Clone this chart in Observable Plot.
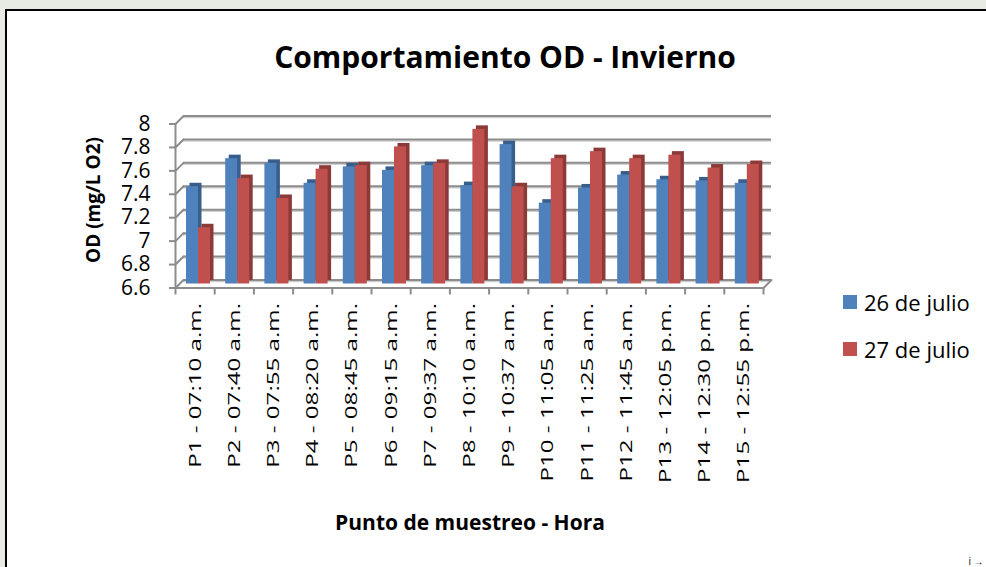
<!DOCTYPE html>
<html>
<head>
<meta charset="utf-8">
<script src="https://cdn.jsdelivr.net/npm/d3@7"></script>
<script src="https://cdn.jsdelivr.net/npm/@observablehq/plot@0.6"></script>
<style>
  html, body { margin: 0; padding: 0; overflow: hidden; }
  body { width: 986px; height: 567px; position: relative; background: #e8ebe4; font-family: "Open Sans", sans-serif; color: #000; }
  #box { position: absolute; left: 5px; top: 9px; width: 979px; height: 556px; border-left: 2px solid #000; border-top: 2px solid #000; background: #fff; }
  #chart { position: absolute; left: 0; top: 0; }
  #title { position: absolute; left: 205px; width: 600px; top: 42px; text-align: center; font-weight: 700; font-size: 30px; line-height: 1; white-space: nowrap; }
  #xtitle { position: absolute; left: 270px; width: 400px; top: 512px; text-align: center; font-weight: 700; font-size: 21px; line-height: 1; white-space: nowrap; }
  #ytitle { position: absolute; left: -7px; width: 200px; top: 189px; text-align: center; font-weight: 700; font-size: 19px; line-height: 22px; transform: rotate(-90deg); transform-origin: 100px 11px; white-space: nowrap; }
  #legend { position: absolute; left: 843px; top: 289px; font-size: 22px; line-height: 1; }
  .item { display: flex; align-items: center; height: 26px; margin-bottom: 21px; white-space: nowrap; }
  .sw { width: 14px; height: 14px; margin-right: 7px; display: inline-block; }
</style>
</head>
<body>
<div id="box"></div>
<div id="chart"></div>
<div id="title"></div>
<div id="ytitle"></div>
<div id="xtitle"></div>
<div id="legend"></div>
<script>
// ---- data ----
const categories = [
  "P1 - 07:10 a.m.", "P2 - 07:40 a.m.", "P3 - 07:55 a.m.", "P4 - 08:20 a.m.", "P5 - 08:45 a.m.",
  "P6 - 09:15 a.m.", "P7 - 09:37 a.m.", "P8 - 10:10 a.m.", "P9 - 10:37 a.m.", "P10 - 11:05 a.m.",
  "P11 - 11:25 a.m.", "P12 - 11:45 a.m.", "P13 - 12:05 p.m.", "P14 - 12:30 p.m.", "P15 - 12:55 p.m."
];
const julio26 = [7.43, 7.67, 7.63, 7.46, 7.60, 7.57, 7.61, 7.44, 7.79, 7.29, 7.42, 7.53, 7.49, 7.48, 7.46];
const julio27 = [7.08, 7.50, 7.33, 7.58, 7.61, 7.77, 7.63, 7.92, 7.43, 7.67, 7.73, 7.67, 7.70, 7.59, 7.62];
const seriesNames = ["26 de julio", "27 de julio"];
const yTicks = [6.6, 6.8, 7, 7.2, 7.4, 7.6, 7.8, 8];
const titleText = "Comportamiento OD - Invierno";
const xTitleText = "Punto de muestreo - Hora";
const yTitleText = "OD (mg/L O2)";

// ---- styles ----
const frontColors = ["#4f81bd", "#c0504d"];
const sideColors = ["#385e8c", "#8c3a38"];
const gridColor = "#8c8c8c";
const depth = 4;      // half of the 3D depth offset, px
const side = 3.5;     // bar side/top face, px

const n = categories.length;
const yMin = yTicks[0];
const yMax = yTicks[yTicks.length - 1];
const rows = categories.map((c, i) => ({i, c, a: julio26[i], b: julio27[i]}));
const bounds = d3.range(n + 1);

const lineShape = {draw(context, l) { context.moveTo(0, 0); context.lineTo(0, -l); }};

function barPair(key, k, insetLeft, insetRight) {
  return [
    Plot.rect(rows, {x1: "i", x2: d => d.i + 1, y1: yMin, y2: key, insetLeft, insetRight, dx: side, dy: -side, fill: sideColors[k]}),
    Plot.rect(rows, {x1: "i", x2: d => d.i + 1, y1: yMin, y2: key, insetLeft, insetRight, fill: frontColors[k]})
  ];
}

const chart = Plot.plot({
  width: 986,
  height: 567,
  marginLeft: 179,
  marginRight: 219,
  marginTop: 119.5,
  marginBottom: 283.5,
  x: {domain: [0, n], axis: null},
  y: {domain: [yMin, yMax], axis: null},
  style: {background: "transparent", overflow: "visible", fontFamily: "Open Sans, sans-serif", color: "#000"},
  marks: [
    // back wall gridlines
    Plot.ruleY(yTicks, {dx: depth, dy: -depth + 1.5, stroke: "#d0d0d0", strokeWidth: 1.5}),
    Plot.ruleY(yTicks, {dx: depth, dy: -depth, stroke: gridColor, strokeWidth: 2}),
    // side wall diagonals
    Plot.vector(yTicks, {x: 0, y: d => d, dx: -depth, dy: depth, length: 2 * depth * Math.SQRT2, rotate: 45, anchor: "start", shape: lineShape, stroke: gridColor, strokeWidth: 2}),
    // floor right diagonal
    Plot.vector([yMin], {x: n, y: d => d, dx: -depth, dy: depth, length: 2 * depth * Math.SQRT2, rotate: 45, anchor: "start", shape: lineShape, stroke: gridColor, strokeWidth: 2}),
    // front axis and floor edge
    Plot.ruleX([0], {y1: yMin, y2: yMax, dx: -depth, dy: depth, stroke: gridColor, strokeWidth: 2}),
    Plot.ruleY([yMin], {x1: 0, x2: n, dx: -depth, dy: depth, stroke: gridColor, strokeWidth: 2}),
    // y ticks and labels
    Plot.axisY(yTicks, {anchor: "left", tickSize: 6, tickFormat: () => "", dx: -depth, dy: depth, stroke: gridColor, strokeWidth: 2}),
    Plot.text(yTicks, {x: 0, y: d => d, text: d => `${d}`, textAnchor: "end", dx: -depth - 25, dy: depth, fontSize: 21, fill: "#000"}),
    // x boundary ticks
    Plot.axisX(bounds, {anchor: "bottom", tickSize: 7, tickFormat: () => "", dx: -depth, dy: depth, stroke: gridColor, strokeWidth: 2}),
    // bars
    ...barPair("a", 0, 7, 20.2),
    ...barPair("b", 1, 19, 8.2),
    // x category labels
    Plot.text(rows, {x: d => d.i + 0.5, y: yMin, text: "c", rotate: -90, textAnchor: "end", dx: -depth, dy: depth + 15, fontSize: 17, fill: "#000", className: "xlab"})
  ]
});
document.getElementById("chart").appendChild(chart);

// stretch the rotated category labels along their length, as in the reference
d3.select(chart).selectAll(".xlab text").attr("transform", function() {
  return (this.getAttribute("transform") || "") + " scale(1.42,1)";
});

document.getElementById("title").textContent = titleText;
document.getElementById("xtitle").textContent = xTitleText;
document.getElementById("ytitle").textContent = yTitleText;
const legend = document.getElementById("legend");
seriesNames.forEach((name, k) => {
  const item = document.createElement("div");
  item.className = "item";
  const sw = document.createElement("span");
  sw.className = "sw";
  sw.style.background = frontColors[k];
  const t = document.createElement("span");
  t.textContent = name;
  item.appendChild(sw);
  item.appendChild(t);
  legend.appendChild(item);
});
</script>
</body>
</html>
